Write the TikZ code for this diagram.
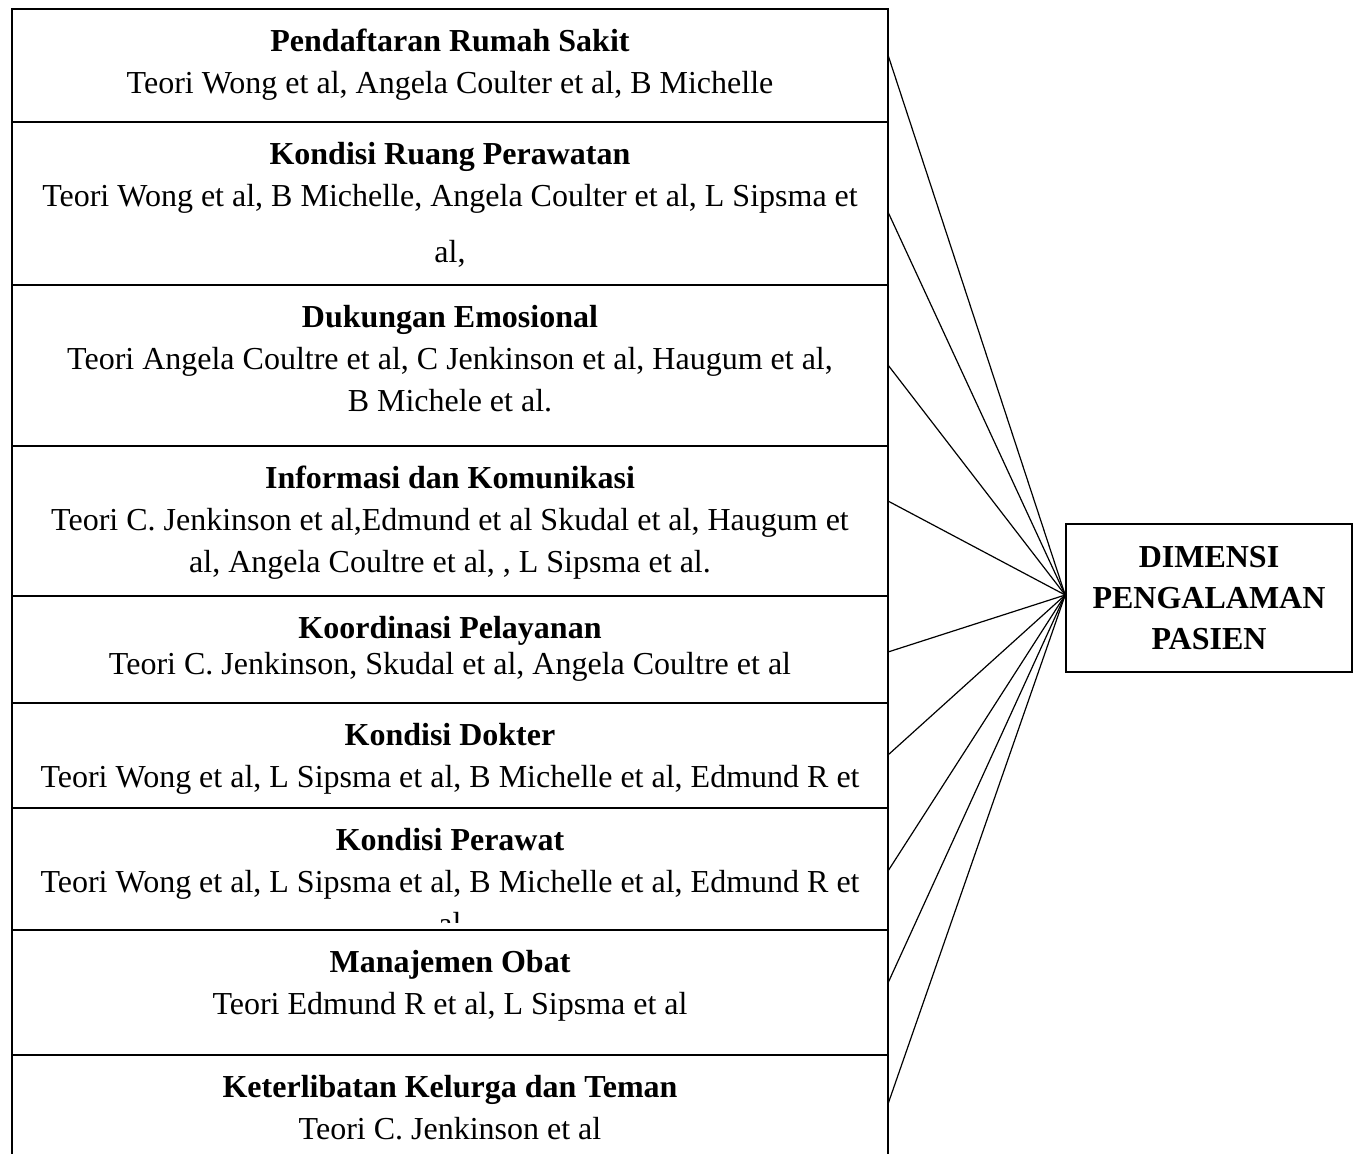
\documentclass[tikz,border=0pt]{standalone}
\usepackage{fontspec}
\setmainfont{Liberation Serif}
\usetikzlibrary{positioning}

\begin{document}
\begin{tikzpicture}[x=0.5pt, y=-0.5pt,
    row/.style={draw, line width=0.8pt, minimum width=438pt, inner sep=0pt, outer sep=0pt, anchor=north west},
    txt/.style={align=center, inner sep=0pt, anchor=north, font=\fontsize{16}{21}\selectfont},
    link/.style={line width=0.6pt}]
    \useasboundingbox (0,0) rectangle (1356,1153);
    \clip (0,0) rectangle (1356,1153);
    % rows
    \node[row, minimum height=56.5pt] (r1) at (12,9) {};
    \node[row, minimum height=81.5pt] (r2) at (r1.south west) {};
    \node[row, minimum height=80.5pt] (r3) at (r2.south west) {};
    \node[row, minimum height=75pt] (r4) at (r3.south west) {};
    \node[row, minimum height=53.5pt] (r5) at (r4.south west) {};
    \node[row, minimum height=52.5pt] (r6) at (r5.south west) {};
    \node[row, minimum height=61pt] (r7) at (r6.south west) {};
    \node[row, minimum height=62.5pt] (r8) at (r7.south west) {};
    \node[row, minimum height=90pt] (r9) at (r8.south west) {};
    % texts
    \node[txt] (t1) at ([yshift=-10pt]r1.north) {\textbf{Pendaftaran Rumah Sakit}\\Teori Wong et al, Angela Coulter et al, B Michelle};
    \node[txt] (t2) at ([yshift=-10pt]r2.north) {\textbf{Kondisi Ruang Perawatan}\\Teori Wong et al, B Michelle, Angela Coulter et al, L Sipsma et\\[7pt]al,};
    \node[txt] (t3) at ([yshift=-10pt]r3.north) {\textbf{Dukungan Emosional}\\Teori Angela Coultre et al, C Jenkinson et al, Haugum et al,\\B Michele et al.};
    \node[txt] (t4) at ([yshift=-10pt]r4.north) {\textbf{Informasi dan Komunikasi}\\Teori C. Jenkinson et al,Edmund et al Skudal et al, Haugum et\\al, Angela Coultre et al, , L Sipsma et al.};
    \node[txt] (t5) at ([yshift=-10pt]r5.north) {\textbf{Koordinasi Pelayanan}\\[-3pt]Teori C. Jenkinson, Skudal et al, Angela Coultre et al};
    \node[txt] (t6) at ([yshift=-10pt]r6.north) {\textbf{Kondisi Dokter}\\Teori Wong et al, L Sipsma et al, B Michelle et al, Edmund R et};
    \begin{scope}
        \clip (12,808) rectangle (888,922);
        \node[txt] (t7) at ([yshift=-10pt]r7.north) {\textbf{Kondisi Perawat}\\Teori Wong et al, L Sipsma et al, B Michelle et al, Edmund R et\\al};
    \end{scope}
    \node[txt] (t8) at ([yshift=-10pt]r8.north) {\textbf{Manajemen Obat}\\Teori Edmund R et al, L Sipsma et al};
    \node[txt] (t9) at ([yshift=-10pt]r9.north) {\textbf{Keterlibatan Kelurga dan Teman}\\Teori C. Jenkinson et al};
    % target
    \node[draw, line width=0.8pt, minimum width=143pt, minimum height=74pt, align=center,
          font=\fontsize{16}{20.5}\selectfont\bfseries] (dim) at (1209,598) {DIMENSI\\PENGALAMAN\\PASIEN};
    \foreach \r/\d in {r1/23, r2/45, r3/40, r4/27.5, r5/28, r6/26, r7/31.5, r8/26.5, r9/24.5}
        \draw[link] ([yshift=-\d pt]\r.north east) -- ([yshift=1.5pt]dim.west);
\end{tikzpicture}
\end{document}
